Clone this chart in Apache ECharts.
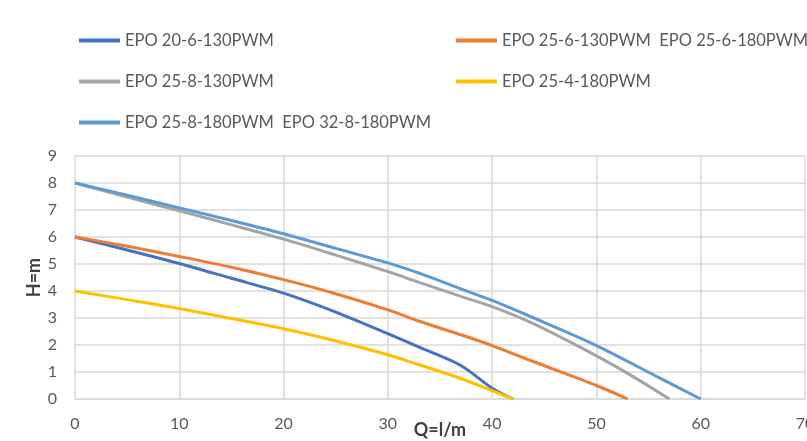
<!DOCTYPE html>
<html><head><meta charset="utf-8">
<script src="https://cdn.jsdelivr.net/npm/echarts@6/dist/echarts.min.js"></script>
<style>html,body{margin:0;padding:0;background:#fff}#c{width:807px;height:441px}</style>
</head><body><div id="c"></div>
<script>
var names = ["EPO 20-6-130PWM", "EPO 25-6-130PWM  EPO 25-6-180PWM", "EPO 25-8-130PWM", "EPO 25-4-180PWM", "EPO 25-8-180PWM  EPO 32-8-180PWM"];
var colors = ["#4472C4", "#ED7D31", "#A5A5A5", "#FFC000", "#5B9BD5"];
var q1 = [0, 5, 10, 15, 20, 25, 30, 33, 37, 40, 42];
var h1 = [6, 5.52, 5.02, 4.47, 3.92, 3.22, 2.42, 1.92, 1.24, 0.4, 0];
var q2 = [0, 5, 10, 15, 20, 25, 30, 33, 37, 40, 44, 50, 53];
var h2 = [6, 5.66, 5.28, 4.88, 4.42, 3.9, 3.3, 2.88, 2.38, 1.98, 1.38, 0.5, 0];
var q3 = [0, 5, 10, 15, 20, 25, 30, 33, 37, 40, 44, 50, 53, 57];
var h3 = [8, 7.48, 6.97, 6.45, 5.92, 5.33, 4.72, 4.32, 3.8, 3.42, 2.78, 1.6, 0.95, 0];
var q4 = [0, 5, 10, 15, 20, 25, 30, 33, 37, 40, 42];
var h4 = [4, 3.68, 3.35, 2.98, 2.6, 2.15, 1.64, 1.27, 0.76, 0.31, 0];
var q5 = [0, 5, 10, 15, 20, 25, 30, 33, 37, 40, 44, 50, 55, 60];
var h5 = [8, 7.55, 7.08, 6.61, 6.12, 5.58, 5.04, 4.66, 4.08, 3.65, 3.0, 1.98, 0.99, 0];
var xTitle = "Q=l/m";
var yTitle = "H=m";

var qs = [q1, q2, q3, q4, q5];
var hs = [h1, h2, h3, h4, h5];
function pairs(q, h) { return q.map(function (v, i) { return [v, h[i]]; }); }

var FONT = "Lato";
var series = names.map(function (n, i) {
  return {
    name: n, type: "line", data: pairs(qs[i], hs[i]),
    smooth: 0.3, showSymbol: false, symbol: "none",
    lineStyle: { color: colors[i], width: 3 }, itemStyle: { color: colors[i] },
    z: 2 + i
  };
});
var legendBase = {
  orient: "vertical", icon: "rect", itemWidth: 41, itemHeight: 4, itemGap: 24,
  textStyle: { fontFamily: FONT, fontSize: 16.5, color: "#595959" }
};
var chart = echarts.init(document.getElementById("c"), null, { renderer: "canvas" });
chart.setOption({
  backgroundColor: "#fff",
  animation: false,
  legend: [
    Object.assign({}, legendBase, { left: 74, top: 27, data: [names[0], names[2], names[4]] }),
    Object.assign({}, legendBase, { left: 451, top: 27, data: [names[1], names[3]] })
  ],
  grid: { left: 75, right: 2, top: 156, bottom: 42, containLabel: false, outerBoundsMode: "none" },
  xAxis: {
    type: "value", min: 0, max: 70, interval: 10,
    name: xTitle, nameLocation: "middle", nameGap: 22, nameMoveOverlap: false,
    nameTextStyle: { fontFamily: FONT, fontSize: 18, fontWeight: "bold", color: "#404040", verticalAlign: "top" },
    axisLine: { show: true, lineStyle: { color: "#d9d9d9", width: 1.5 } },
    axisTick: { show: false },
    axisLabel: { fontFamily: FONT, fontSize: 16, color: "#595959", margin: 17 },
    splitLine: { show: true, lineStyle: { color: "#d9d9d9", width: 1.5 } }
  },
  yAxis: {
    type: "value", min: 0, max: 9, interval: 1,
    name: yTitle, nameLocation: "middle", nameGap: 32, nameRotate: 90, nameMoveOverlap: false,
    nameTextStyle: { fontFamily: FONT, fontSize: 18, fontWeight: "bold", color: "#404040" },
    axisLine: { show: false },
    axisTick: { show: false },
    axisLabel: { fontFamily: FONT, fontSize: 16, color: "#595959", margin: 18 },
    splitLine: { show: true, lineStyle: { color: "#d9d9d9", width: 1.5 } }
  },
  series: series
});
</script></body></html>
